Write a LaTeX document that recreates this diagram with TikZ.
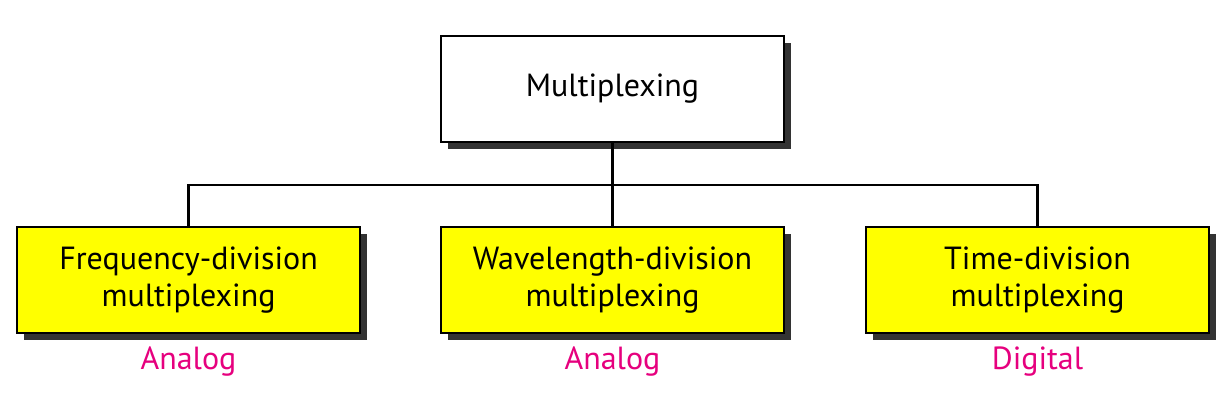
\documentclass[tikz,border=0pt]{standalone}
\usepackage{fontspec}
\setmainfont{PT Sans}
\usetikzlibrary{shadows}
\definecolor{boxyellow}{HTML}{FFFF00}
\definecolor{shadowgray}{HTML}{333333}
\definecolor{labelpink}{HTML}{E6007E}
\begin{document}
\begin{tikzpicture}[x=1pt,y=-1pt,
  boxstyle/.style={draw=black, line width=2.8pt, minimum width=343pt, minimum height=106pt,
    inner sep=0pt, align=center, font=\fontsize{32}{37}\selectfont,
    drop shadow={shadow xshift=7pt, shadow yshift=-7pt, fill=shadowgray, opacity=1}},
  topbox/.style={boxstyle, fill=white},
  subbox/.style={boxstyle, fill=boxyellow},
  wire/.style={draw=black, line width=2.8pt},
  tag/.style={text=labelpink, font=\fontsize{32}{36}\selectfont}]
\useasboundingbox (0,0) rectangle (1231,406);
\node[topbox] (mux) at (612.5,89) {Multiplexing};
\node[subbox] (fdm) at (188.5,280) {Frequency-division\\multiplexing};
\node[subbox] (wdm) at (612.5,280) {Wavelength-division\\multiplexing};
\node[subbox] (tdm) at (1037.5,280) {Time-division\\multiplexing};
\coordinate (bus) at (612.5,185);
\draw[wire] (mux.south) -- (bus);
\draw[wire] (fdm.north) |- (bus) -| (tdm.north);
\draw[wire] (bus) -- (wdm.north);
\node[tag] (a1) at (188.5,362) {Analog};
\node[tag] (a2) at (612.5,362) {Analog};
\node[tag] (d1) at (1037.5,362) {Digital};
\end{tikzpicture}
\end{document}
